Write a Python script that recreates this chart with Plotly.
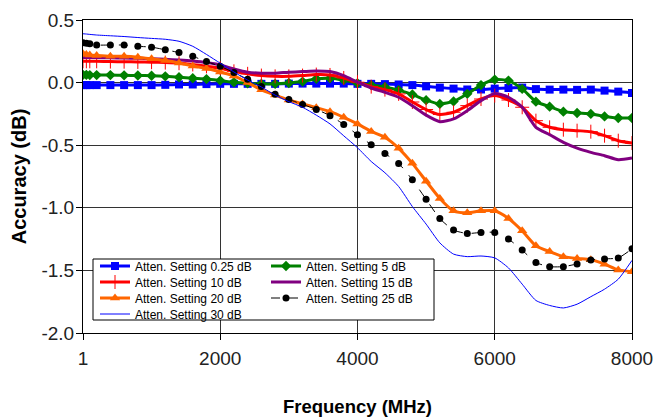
import plotly.graph_objects as go

freq = [1, 50, 100, 200, 400, 600, 800, 1000, 1200, 1400, 1600, 1800, 2000, 2200, 2400,
        2600, 2800, 3000, 3200, 3400, 3600, 3800, 4000, 4200, 4400, 4600, 4800, 5000,
        5200, 5400, 5600, 5800, 6000, 6200, 6400, 6600, 6800, 7000, 7200, 7400, 7600,
        7800, 8000]

att_0_25 = [-0.02, -0.02, -0.02, -0.02, -0.02, -0.02, -0.02, -0.02, -0.018, -0.015, -0.015,
            -0.012, -0.01, -0.01, -0.01, -0.01, -0.01, -0.008, -0.008, -0.008, -0.008, -0.008,
            -0.01, -0.01, -0.012, -0.015, -0.02, -0.03, -0.04, -0.048, -0.055, -0.055, -0.048,
            -0.043, -0.04, -0.052, -0.056, -0.056, -0.058, -0.056, -0.064, -0.072, -0.083]

att_5 = [0.062, 0.062, 0.06, 0.06, 0.06, 0.058, 0.057, 0.055, 0.05, 0.043, 0.035, 0.028,
         0.016, 0.003, -0.005, -0.01, -0.01, -0.003, 0.008, 0.03, 0.035, 0.02, -0.005, -0.02,
         -0.035, -0.06, -0.095, -0.14, -0.17, -0.15, -0.09, -0.02, 0.024, 0.016, -0.05,
         -0.152, -0.192, -0.232, -0.243, -0.25, -0.27, -0.283, -0.283]

att_10 = [0.17, 0.17, 0.17, 0.17, 0.168, 0.167, 0.165, 0.163, 0.16, 0.155, 0.145, 0.13,
          0.115, 0.09, 0.07, 0.056, 0.05, 0.05, 0.056, 0.064, 0.061, 0.037, 0.003, -0.032,
          -0.056, -0.09, -0.155, -0.215, -0.255, -0.237, -0.184, -0.131, -0.104, -0.139,
          -0.197, -0.304, -0.357, -0.376, -0.384, -0.392, -0.424, -0.464, -0.483]

att_15 = [0.2, 0.2, 0.2, 0.2, 0.198, 0.196, 0.194, 0.19, 0.186, 0.18, 0.172, 0.16, 0.141,
          0.109, 0.083, 0.075, 0.075, 0.083, 0.088, 0.093, 0.088, 0.056, 0.003, -0.043,
          -0.077, -0.117, -0.185, -0.26, -0.312, -0.29, -0.224, -0.144, -0.087, -0.117,
          -0.197, -0.357, -0.416, -0.477, -0.523, -0.557, -0.584, -0.616, -0.603]

att_20 = [0.23, 0.225, 0.22, 0.216, 0.21, 0.21, 0.203, 0.19, 0.176, 0.157, 0.133, 0.113,
          0.085, 0.053, 0.0, -0.058, -0.1, -0.139, -0.17, -0.2, -0.232, -0.277, -0.33, -0.39,
          -0.437, -0.525, -0.645, -0.787, -0.925, -1.024, -1.04, -1.024, -1.024, -1.085,
          -1.184, -1.304, -1.35, -1.39, -1.405, -1.414, -1.45, -1.496, -1.51]

att_25 = [0.318, 0.315, 0.31, 0.3, 0.3, 0.3, 0.29, 0.283, 0.262, 0.24, 0.21, 0.168, 0.13,
          0.08, 0.026, -0.032, -0.094, -0.134, -0.174, -0.214, -0.264, -0.334, -0.416,
          -0.496, -0.566, -0.646, -0.776, -0.932, -1.086, -1.178, -1.205, -1.197, -1.197,
          -1.25, -1.338, -1.437, -1.47, -1.47, -1.448, -1.416, -1.408, -1.4, -1.328]

att_30 = [0.39, 0.388, 0.385, 0.38, 0.374, 0.368, 0.36, 0.353, 0.346, 0.33, 0.29, 0.225,
          0.155, 0.085, 0.02, -0.035, -0.1, -0.152, -0.197, -0.26, -0.33, -0.425, -0.52,
          -0.63, -0.72, -0.83, -0.99, -1.13, -1.28, -1.37, -1.39, -1.385, -1.4, -1.48,
          -1.61, -1.74, -1.78, -1.8, -1.77, -1.71, -1.65, -1.57, -1.42]

x_ticks = [1, 2000, 4000, 6000, 8000]
x_ticklabels = ["1", "2000", "4000", "6000", "8000"]
y_ticks = [0.5, 0.0, -0.5, -1.0, -1.5, -2.0]
y_ticklabels = ["0.5", "0.0", "-0.5", "-1.0", "-1.5", "-2.0"]

FONT = "Liberation Sans, Arial, sans-serif"
OFF = 8  # page body margin offset
W, H = 662, 420
PW, PH = 549, 313
ML, MT = 83 - OFF, 20 - OFF
MR, MB = W - ML - PW, H - MT - PH


def px_x(p):
    return (p - OFF - ML) / PW


def px_y(p):
    return (MT + PH - (p - OFF)) / PH


fig = go.Figure()

# legend slot (page pixel x of item start, row centre y)
slots = {
    "legend": (95, 266), "legend2": (266, 266),
    "legend3": (95, 282), "legend4": (266, 282),
    "legend5": (95, 298), "legend6": (266, 298),
    "legend7": (95, 314),
}


def add(name, y, color, width, legend, symbol=None, msize=0, dash=None, mline=None):
    mode = "lines+markers" if symbol else "lines"
    marker = dict(symbol=symbol, size=msize, color=color) if symbol else None
    if symbol and mline:
        marker["line"] = dict(color=color, width=mline)
    fig.add_trace(go.Scatter(
        x=freq, y=y, name=name, mode=mode,
        line=dict(color=color, width=width, shape="spline", smoothing=0.6, dash=dash),
        marker=marker, legend=legend,
    ))


add("Atten. Setting 0.25 dB", att_0_25, "#0000FF", 3, "legend", "square", 8)
add("Atten. Setting 5 dB", att_5, "#008000", 3, "legend2", "diamond", 8)
add("Atten. Setting 10 dB", att_10, "#FF0000", 3, "legend3", "cross-thin", 10, mline=1)
add("Atten. Setting 15 dB", att_15, "#800080", 3, "legend4")
add("Atten. Setting 20 dB", att_20, "#FF6600", 3, "legend5", "triangle-up", 9)
add("Atten. Setting 25 dB", att_25, "#000000", 1, "legend6", "circle", 7, dash="dash")
add("Atten. Setting 30 dB", att_30, "#0000FF", 1, "legend7")

legends = {}
for key, (lx, ly) in slots.items():
    legends[key] = dict(
        x=px_x(lx), y=px_y(ly), xanchor="left", yanchor="middle",
        bgcolor="rgba(0,0,0,0)", borderwidth=0,
        font=dict(family=FONT, size=12, color="#000"),
        orientation="v", itemwidth=30,
    )

fig.update_layout(
    width=W, height=H,
    margin=dict(l=ML, r=MR, t=MT, b=MB),
    paper_bgcolor="white", plot_bgcolor="white",
    font=dict(family=FONT, color="#111"),
    showlegend=True,
    shapes=[dict(type="rect", xref="paper", yref="paper",
                 x0=px_x(93), x1=px_x(434), y0=px_y(320), y1=px_y(259),
                 line=dict(color="#000", width=1), fillcolor="white", layer="above")],
    xaxis=dict(
        range=[1, 8000], tickvals=x_ticks, ticktext=x_ticklabels,
        showgrid=True, gridcolor="#333", gridwidth=1,
        showline=True, linecolor="#000", linewidth=1, mirror=True,
        ticks="outside", ticklen=6, tickcolor="#000",
        tickfont=dict(family=FONT, size=19, color="#222"),
        ticklabelstandoff=2, automargin=False,
        zeroline=False,
        title=dict(text="<b>Frequency (MHz)</b>", font=dict(family=FONT, size=18.5, color="#000"),
                   standoff=32),
    ),
    yaxis=dict(
        range=[-2.0, 0.5], tickvals=y_ticks, ticktext=y_ticklabels,
        showgrid=True, gridcolor="#333", gridwidth=1,
        showline=True, linecolor="#000", linewidth=1, mirror=True,
        ticks="outside", ticklen=6, tickcolor="#000",
        tickfont=dict(family=FONT, size=19, color="#222"),
        ticklabelstandoff=-2,
        automargin=False,
        zeroline=False,
        title=dict(text="<b>Accuracy (dB)</b>", font=dict(family=FONT, size=20, color="#000"),
                   standoff=12),
    ),
)
fig.update_layout(**legends)

fig.write_html("out.html")
